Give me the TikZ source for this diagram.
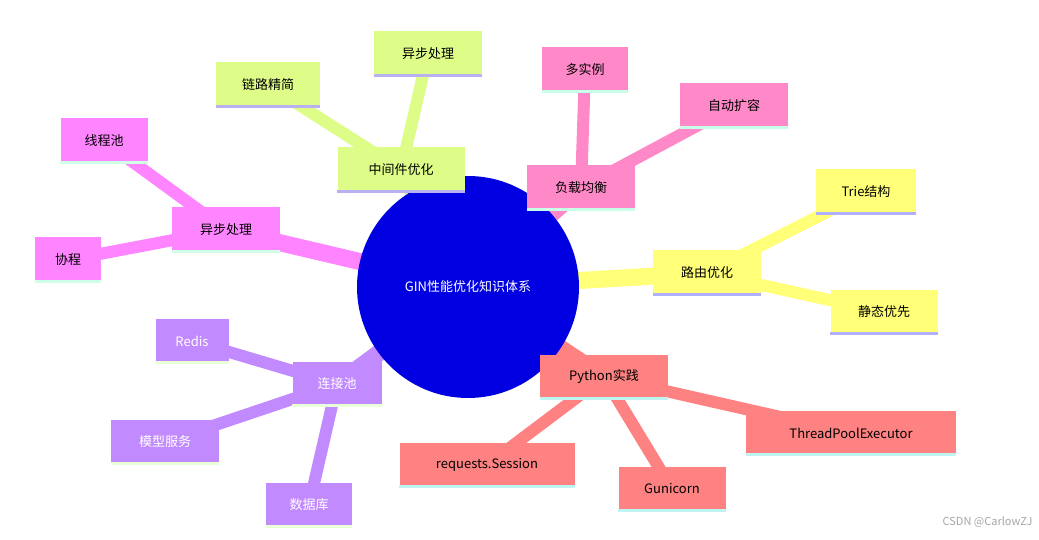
\documentclass[tikz,border=0pt]{standalone}
\usepackage{fontspec}
\setmainfont{Noto Sans CJK SC}
\begin{document}
\begin{tikzpicture}[x=1pt,y=-1pt,
  box/.style={minimum height=45pt,inner sep=0pt,font=\fontsize{13}{15}\selectfont},
  brG/.style={box,fill=cGreen}, brP/.style={box,fill=cPink}, brY/.style={box,fill=cYel},
  brS/.style={box,fill=cSal}, brV/.style={box,fill=cVio,text=white}, brM/.style={box,fill=cMag},
  thickedge/.style={line width=17pt}, thinedge/.style={line width=12pt},
  strip/.style={line width=3pt}]
\definecolor{cGreen}{HTML}{DDFC88}
\definecolor{cPink}{HTML}{FF88C8}
\definecolor{cYel}{HTML}{FFFF78}
\definecolor{cSal}{HTML}{FF8282}
\definecolor{cVio}{HTML}{C28AFF}
\definecolor{cMag}{HTML}{FF84FF}
\definecolor{cBlue}{HTML}{0000E0}
\useasboundingbox (0,0) rectangle (1039,540);
\fill[white] (0,0) rectangle (1039,540);
\coordinate (c) at (468,287);
\foreach \n/\x/\y in {mw/401/170, ll/268/85, yb/428/54, fz/581/188, dsl/585/70, zd/734/106,
 ly/707/273, tr/866/192, jt/884/312, py/604/377, tp/851/433, rq/487/465, gu/672/489,
 lj/337/384, rd/192/341, mx/165/442, sj/309/505, ay/226/230, xc/104/141, xp/68/260}
 {\coordinate (p\n) at (\x,\y);}
\draw[cGreen,thickedge] (c) -- (pmw); \draw[cGreen,thinedge] (pmw) -- (pll); \draw[cGreen,thinedge] (pmw) -- (pyb);
\draw[cPink,thickedge] (c) -- (pfz); \draw[cPink,thinedge] (pfz) -- (pdsl); \draw[cPink,thinedge] (pfz) -- (pzd);
\draw[cYel,thickedge] (c) -- (ply); \draw[cYel,thinedge] (ply) -- (ptr); \draw[cYel,thinedge] (ply) -- (pjt);
\draw[cSal,thickedge] (c) -- (ppy); \draw[cSal,thinedge] (ppy) -- (ptp); \draw[cSal,thinedge] (ppy) -- (prq); \draw[cSal,thinedge] (ppy) -- (pgu);
\draw[cVio,thickedge] (c) -- (plj); \draw[cVio,thinedge] (plj) -- (prd); \draw[cVio,thinedge] (plj) -- (pmx); \draw[cVio,thinedge] (plj) -- (psj);
\draw[cMag,thickedge] (c) -- (pay); \draw[cMag,thinedge] (pay) -- (pxc); \draw[cMag,thinedge] (pay) -- (pxp);
\node[circle,fill=cBlue,minimum size=222pt,inner sep=0pt,text=white,font=\fontsize{13}{15}\selectfont] (root) at (c) {GIN性能优化知识体系};
\foreach \n/\s/\t/\w/\k in {
 mw/brG/中间件优化/127/B8B0F0, ll/brG/链路精简/104/B8B0F0, yb/brG/异步处理/108/B8B0F0,
 fz/brP/负载均衡/108/C8FFE8, dsl/brP/多实例/86/C8FFE8, zd/brP/自动扩容/108/C8FFE8,
 ly/brY/路由优化/108/B0B0FF, tr/brY/Trie结构/100/B0B0FF, jt/brY/静态优先/107/B0B0FF,
 py/brS/Python实践/128/C0F4F0, tp/brS/ThreadPoolExecutor/210/C0F4F0, rq/brS/requests.Session/175/C0F4F0, gu/brS/Gunicorn/107/C0F4F0,
 lj/brV/连接池/89/E8FFD8, rd/brV/Redis/73/E8FFD8, mx/brV/模型服务/108/E8FFD8, sj/brV/数据库/86/E8FFD8,
 ay/brM/异步处理/108/D0FFE8, xc/brM/线程池/87/D0FFE8, xp/brM/协程/66/D0FFE8}{
 \definecolor{stc}{HTML}{\k}
 \node[\s,minimum width=\w pt] (\n) at (p\n) {\t};
 \draw[stc,strip] ([yshift=1.5pt]\n.south west) -- ([yshift=1.5pt]\n.south east);
}
\node[text=gray!70,font=\fontsize{11}{13}\selectfont,anchor=east] (wm) at (1036,522) {CSDN @CarlowZJ};
\end{tikzpicture}
\end{document}
